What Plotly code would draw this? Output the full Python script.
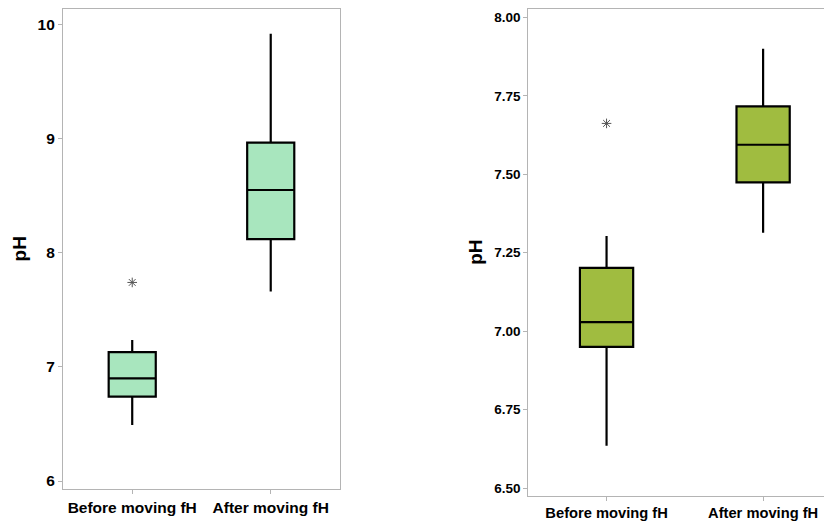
import plotly.graph_objects as go

categories = ["Before moving fH", "After moving fH"]

# Left panel stats
left_q1 = [6.74, 8.12]
left_median = [6.90, 8.55]
left_q3 = [7.13, 8.965]
left_low = [6.49, 7.66]
left_high = [7.235, 9.92]
left_outlier_x = ["Before moving fH"]
left_outlier_y = [7.74]

# Right panel stats
right_q1 = [6.95, 7.474]
right_median = [7.029, 7.594]
right_q3 = [7.202, 7.716]
right_low = [6.635, 7.314]
right_high = [7.303, 7.90]
right_outlier_x = ["Before moving fH"]
right_outlier_y = [7.662]

left_ticks = [6, 7, 8, 9, 10]
right_ticks = [6.50, 6.75, 7.00, 7.25, 7.50, 7.75, 8.00]

LEFT_FILL = "#A8E6BE"
RIGHT_FILL = "#A0BC40"
FRAME = "#B4B4B4"
FONT = "Liberation Sans"

fig = go.Figure()

fig.add_trace(go.Box(
    x=categories, q1=left_q1, median=left_median, q3=left_q3,
    lowerfence=left_low, upperfence=left_high,
    fillcolor=LEFT_FILL, line=dict(color="black", width=2.2),
    width=0.34, whiskerwidth=0, boxpoints=False, hoverinfo="skip",
    xaxis="x", yaxis="y", showlegend=False))
fig.add_trace(go.Scatter(
    x=left_outlier_x, y=left_outlier_y, mode="markers",
    marker=dict(symbol="asterisk-open", size=8, color="#555555",
                line=dict(color="#555555", width=1)),
    xaxis="x", yaxis="y", showlegend=False))

fig.add_trace(go.Box(
    x=categories, q1=right_q1, median=right_median, q3=right_q3,
    lowerfence=right_low, upperfence=right_high,
    fillcolor=RIGHT_FILL, line=dict(color="black", width=2.2),
    width=0.34, whiskerwidth=0, boxpoints=False, hoverinfo="skip",
    xaxis="x2", yaxis="y2", showlegend=False))
fig.add_trace(go.Scatter(
    x=right_outlier_x, y=right_outlier_y, mode="markers",
    marker=dict(symbol="asterisk-open", size=8, color="#555555",
                line=dict(color="#555555", width=1)),
    xaxis="x2", yaxis="y2", showlegend=False))

titlefont = dict(family=FONT, size=19, color="black")

def xax(size):
    return dict(
        type="category", showgrid=False, zeroline=False,
        showline=True, linecolor=FRAME, linewidth=1,
        ticks="outside", ticklen=4, tickcolor=FRAME,
        tickfont=dict(family=FONT, size=size, color="black"),
        automargin=False,
    )

def yax(size):
    return dict(
        showgrid=False, zeroline=False,
        showline=True, linecolor=FRAME, linewidth=1,
        ticks="outside", ticklen=4, tickcolor=FRAME,
        tickfont=dict(family=FONT, size=size, color="black"),
        automargin=False,
        title=dict(text="<b>pH</b>", font=titlefont),
    )

fig.update_layout(
    width=824, height=518,
    margin=dict(l=0, r=0, t=0, b=0),
    paper_bgcolor="white", plot_bgcolor="white",
    boxmode="overlay",
    xaxis=dict(xax(15.5), domain=[0.0667, 0.4029], range=[-0.5, 1.5],
               mirror=True, anchor="y"),
    yaxis=dict(yax(15.5), domain=[0.0714, 0.999], range=[5.93, 10.14],
               tickvals=left_ticks,
               ticktext=[f"<b>{v}</b>" for v in left_ticks],
               mirror=True, anchor="x", title_standoff=5),
    xaxis2=dict(xax(14.7), domain=[0.6314, 1.0], range=[-0.5, 1.44],
                mirror=True, anchor="y2"),
    yaxis2=dict(yax(13.5), domain=[0.0585, 0.999], range=[6.476, 8.028],
                tickvals=right_ticks,
                ticktext=[f"<b>{v:.2f}</b>" for v in right_ticks],
                mirror=False, anchor="x2", title_standoff=6),
)

fig.update_xaxes(tickvals=categories,
                 ticktext=[f"<b>{c}</b>" for c in categories])

fig.write_html("out.html")
